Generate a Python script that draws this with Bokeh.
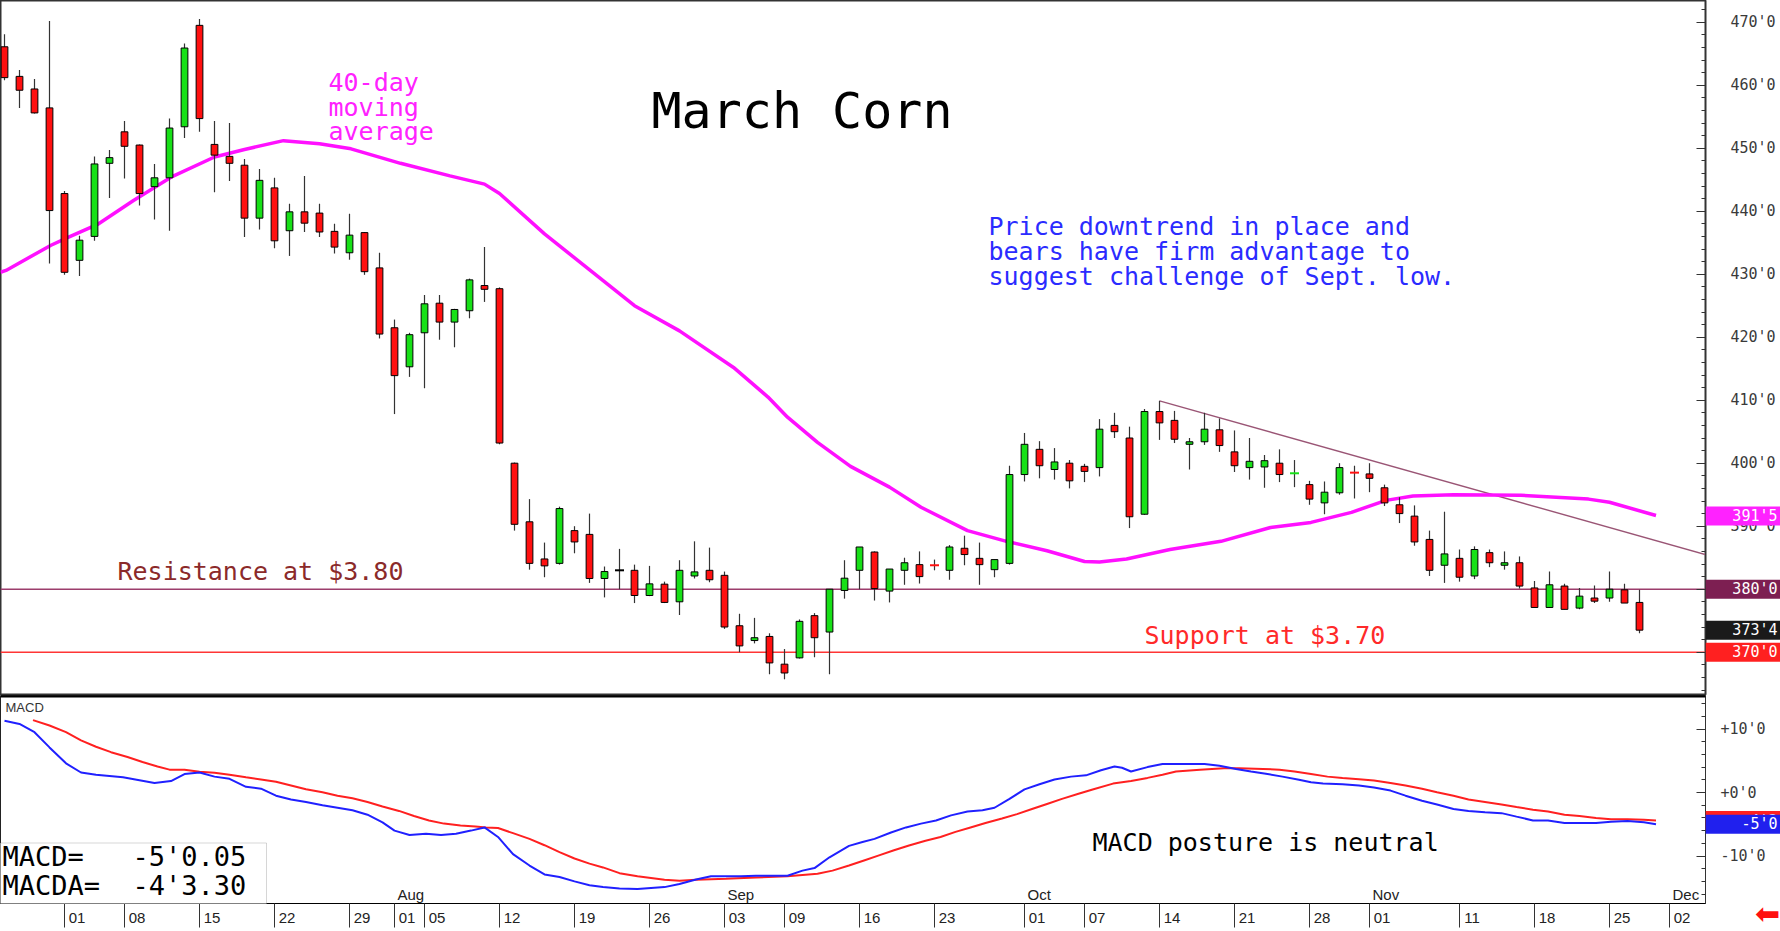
import numpy as np
from bokeh.plotting import figure
from bokeh.models import (Range1d, LinearAxis, SingleIntervalTicker, FixedTicker,
                          Span, Label, BoxAnnotation)
from bokeh.layouts import column, row
from bokeh.core.properties import value
from bokeh.embed import file_html
from bokeh.resources import INLINE

# ---------------- data ----------------
opens = [466.1, 461.4, 459.4, 456.4, 442.8, 432.2, 436.0, 447.6, 452.6, 450.5,
         443.9, 445.3, 453.4, 469.5, 450.6, 448.7, 447.3, 438.9, 443.7, 436.9,
         439.9, 439.7, 436.8, 433.4, 436.6, 431.0, 421.5, 415.3, 420.7, 425.4,
         422.4, 424.2, 428.2, 427.7, 400.0, 390.7, 384.8, 384.1, 389.3, 388.7,
         381.7, 383.0, 383.0, 379.0, 380.8, 378.0, 382.1, 383.0, 382.2, 374.2,
         371.85, 372.5, 368.1, 369.1, 375.8, 373.2, 379.8, 383.0, 385.9, 379.7,
         383.0, 383.9, 383.9, 383.0, 386.5, 384.9, 383.1, 384.1, 398.2, 402.2,
         399.0, 400.0, 399.5, 399.3, 406.0, 404.0, 391.9, 408.2, 406.8, 403.0,
         403.4, 405.3, 401.8, 399.3, 399.4, 400.0, 398.2, 396.6, 393.7, 395.3,
         398.7, 398.3, 396.1, 393.4, 391.6, 387.9, 383.8, 384.9, 382.1, 385.8,
         383.8, 384.2, 380.2, 377.1, 380.5, 377.0, 378.6, 378.6, 379.9, 377.9]
highs = [468.1, 462.4, 461.0, 470.2, 443.2, 436.1, 448.7, 449.7, 454.3, 450.6,
         447.5, 454.7, 466.6, 470.5, 454.3, 454.0, 448.3, 446.7, 445.3, 441.2,
         445.6, 441.2, 438.0, 439.6, 436.7, 433.4, 422.8, 420.7, 426.7, 426.7,
         424.5, 429.3, 434.3, 427.9, 400.1, 394.3, 387.4, 393.1, 390.0, 392.0,
         383.6, 386.4, 383.9, 383.7, 381.2, 384.6, 387.6, 386.6, 382.8, 376.1,
         375.45, 373.0, 370.5, 375.2, 376.2, 380.0, 384.6, 386.7, 386.0, 383.2,
         385.0, 386.0, 384.7, 387.0, 388.5, 387.4, 384.7, 399.6, 404.8, 403.5,
         402.4, 400.5, 399.9, 407.0, 408.0, 405.8, 408.6, 409.9, 408.3, 404.0,
         408.0, 407.1, 405.2, 404.0, 401.3, 402.2, 400.5, 397.2, 397.1, 400.0,
         399.6, 400.0, 396.6, 394.6, 393.3, 389.3, 392.3, 386.3, 386.8, 386.3,
         386.0, 385.2, 381.3, 382.8, 380.85, 380.2, 380.6, 382.8, 380.85, 379.9]
lows = [460.8, 456.4, 455.5, 431.7, 429.9, 429.7, 435.3, 442.1, 445.2, 440.9,
        438.7, 436.9, 451.6, 452.6, 443.0, 444.8, 435.9, 437.1, 434.1, 432.9,
        436.7, 435.9, 433.3, 432.3, 429.9, 419.8, 407.8, 413.7, 411.9, 419.6,
        418.4, 423.0, 425.6, 403.0, 389.3, 383.1, 381.9, 383.9, 385.7, 381.0,
        378.7, 380.0, 377.8, 378.9, 377.8, 375.9, 381.7, 381.1, 373.7, 370.0,
        371.4, 366.5, 365.7, 369.0, 369.2, 366.5, 378.5, 380.0, 378.2, 377.9,
        380.7, 380.9, 383.0, 381.5, 383.8, 380.7, 381.9, 383.9, 397.1, 397.6,
        397.4, 396.0, 397.0, 397.9, 404.0, 389.7, 391.8, 403.7, 403.2, 399.0,
        402.9, 401.8, 398.6, 397.4, 396.1, 397.0, 396.2, 393.4, 391.9, 395.0,
        394.4, 395.4, 393.2, 390.5, 386.9, 382.1, 381.0, 381.2, 381.6, 383.5,
        383.1, 380.1, 377.0, 377.0, 376.8, 376.8, 377.8, 378.0, 377.8, 373.0]
closes = [461.2, 459.2, 455.6, 440.1, 430.3, 435.4, 447.5, 448.5, 450.3, 442.8,
          445.3, 453.2, 465.9, 454.7, 448.9, 447.6, 438.9, 444.9, 435.3, 439.9,
          438.1, 436.7, 434.3, 436.2, 430.4, 420.5, 413.9, 420.4, 425.3, 422.4,
          424.4, 429.1, 427.6, 403.2, 390.3, 384.1, 383.7, 392.8, 387.5, 381.7,
          382.8, 383.0, 379.0, 380.85, 377.9, 383.0, 382.75, 381.5, 374.0, 371.0,
          372.3, 368.3, 366.7, 374.9, 372.3, 380.0, 381.75, 386.7, 380.1, 383.2,
          384.2, 382.0, 383.8, 386.7, 385.5, 383.9, 384.7, 398.2, 403.0, 399.6,
          400.2, 397.2, 398.7, 405.4, 405.0, 391.5, 408.2, 406.4, 403.8, 403.4,
          405.4, 402.8, 399.6, 400.3, 400.4, 398.2, 398.4, 394.3, 395.4, 399.3,
          398.5, 397.6, 393.7, 392.0, 387.5, 383.0, 385.6, 381.9, 386.3, 384.2,
          384.2, 380.5, 377.1, 380.7, 376.8, 378.9, 378.1, 380.0, 377.8, 373.5]

ma_idx = [-0.27, 0.1, 3.1, 4.2, 6.2, 8.6, 11.1, 14, 16, 18.6, 21, 23.1, 26.4, 29.7, 32, 33,
          36, 42, 45, 48.6, 50.9, 52.2, 54.2, 56.4, 59, 61.1, 64.2, 66.8, 69.5, 72, 73,
          74.8, 77.7, 81.1, 84.4, 87.1, 89.8, 92.1, 93.9, 96.6, 101.1, 105.6, 107, 110.1]
ma_val = [430.3, 430.6, 434.6, 435.8, 437.9, 441.7, 445.4, 448.6, 449.8, 451.2, 450.7, 449.9,
          447.6, 445.6, 444.3, 442.8, 436.4, 425.0, 421.0, 415.2, 410.5, 407.3, 403.3, 399.5,
          396.2, 393.0, 389.3, 387.6, 386.1, 384.4, 384.3, 384.8, 386.3, 387.6, 389.8, 390.6,
          392.2, 394.1, 394.8, 395.0, 394.9, 394.3, 393.8, 391.7]

macd_idx = [0, 1, 2, 3, 4.1, 5.1, 6.1, 7.9, 10, 11.1, 12, 13, 14, 15, 16.1, 17.1, 18.1, 19.1,
            20.1, 21.2, 22.2, 23.2, 24.2, 25.2, 26, 27, 28.1, 29.1, 30.1, 31.1, 32, 32.9,
            33.9, 35, 36, 37, 38, 39, 39.9, 41, 42.2, 44, 45, 46.1, 47.1, 49.1, 50.1, 52.2,
            53.2, 54, 55, 56.3, 57.2, 58, 59.1, 60.1, 61.1, 62.1, 63.1, 64.2, 65.2, 66, 67,
            68, 69, 70, 71.1, 72.1, 73.1, 74, 74.5, 75.1, 76.2, 77.2, 80, 81, 82.1, 83.1,
            84.2, 85.2, 86.3, 87.1, 87.9, 89.2, 90.3, 91.3, 92.4, 93.4, 94.5, 95.5, 96.6,
            97.6, 98.7, 99.8, 100.8, 101.9, 102.9, 104, 105, 106.1, 107.1, 108.2, 109.3, 110.1]
macd_val = [11.3, 10.8, 9.5, 7.1, 4.6, 3.15, 2.8, 2.4, 1.5, 1.8, 2.9, 3.15, 2.5, 2.15, 0.9,
            0.6, -0.5, -1.1, -1.5, -2.0, -2.4, -2.8, -3.5, -4.7, -6.0, -6.7, -6.5, -6.7,
            -6.5, -6.0, -5.5, -7.0, -9.7, -11.5, -12.9, -13.3, -14.0, -14.6, -14.9, -15.1,
            -15.2, -14.9, -14.4, -13.7, -13.2, -13.2, -13.1, -13.1, -12.3, -11.9, -10.2,
            -8.4, -7.8, -7.3, -6.3, -5.5, -4.9, -4.4, -3.6, -3.0, -2.8, -2.4, -1.0, 0.5,
            1.3, 2.05, 2.5, 2.7, 3.5, 4.1, 3.9, 3.3, 4.0, 4.5, 4.5, 4.2, 3.7, 3.3, 2.9, 2.5,
            2.0, 1.6, 1.4, 1.3, 1.1, 0.8, 0.3, -0.5, -1.3, -1.9, -2.6, -2.9, -3.1, -3.25,
            -3.8, -4.4, -4.4, -4.8, -4.8, -4.8, -4.6, -4.5, -4.7, -5.0]

sig_idx = [1.9, 3, 4.1, 5.1, 6.1, 7.1, 8.2, 9.2, 10.2, 11, 12, 13, 14, 15, 16.1, 17.1, 18.1,
           19.1, 20.1, 21.2, 22.2, 23.2, 24.2, 25.2, 26.3, 27.3, 28.3, 29.3, 30.4, 31.4, 32.1,
           32.9, 33.9, 35, 36, 37, 38, 39, 39.9, 41, 42.2, 44, 45, 46.1, 48.1, 50.1, 52.2,
           54.2, 55.2, 56.3, 57.3, 58.3, 59.3, 60.3, 61.4, 62.4, 63.4, 64.4, 65.4, 66.5,
           67.5, 68.5, 69.5, 70.5, 71.6, 72.6, 73.9, 75.1, 76.2, 77.2, 78.1, 79.7, 81.3,
           82.3, 83.9, 85, 86, 87.1, 88.2, 89.2, 90.3, 91.3, 92.4, 93.4, 94.5, 95.5, 96.6,
           97.6, 98.7, 99.8, 100.8, 101.9, 102.9, 104, 105, 106.1, 107.1, 108.2, 109.3, 110.1]
sig_val = [11.4, 10.55, 9.5, 8.2, 7.2, 6.35, 5.6, 4.8, 4.1, 3.6, 3.6, 3.25, 3.1, 2.8, 2.4,
           2.05, 1.7, 1.1, 0.5, 0.05, -0.5, -0.9, -1.5, -2.2, -2.9, -3.7, -4.4, -4.9, -5.2,
           -5.35, -5.5, -5.6, -6.4, -7.3, -8.3, -9.4, -10.4, -11.2, -11.8, -12.7, -13.2,
           -13.75, -13.9, -13.75, -13.6, -13.4, -13.2, -12.8, -12.3, -11.5, -10.7, -9.9,
           -9.1, -8.35, -7.6, -7.0, -6.2, -5.5, -4.8, -4.1, -3.4, -2.6, -1.8, -1.0, -0.2,
           0.5, 1.4, 1.8, 2.3, 2.8, 3.3, 3.6, 3.8, 3.8, 3.7, 3.6, 3.3, 2.9, 2.5, 2.3, 2.1,
           1.9, 1.5, 1.1, 0.6, 0.05, -0.5, -1.1, -1.5, -1.9, -2.3, -2.7, -3.0, -3.5, -3.7,
           -4.0, -4.2, -4.2, -4.3, -4.4]

trend_x = [77, 114]
trend_y = [409.9, 385.1]
resistance_level = 380.0
support_level = 370.0

price_tag_values = [391.625, 380.0, 373.5, 370.0]
price_tag_texts = ["391'5", "380'0", "373'4", "370'0"]
price_tag_colors = ["#ff22ff", "#7d1f52", "#1a1a1a", "#ff2020"]
macd_tag_values = [-4.41, -5.0]
macd_tag_texts = ["-4'3", "-5'0"]
macd_tag_colors = ["#ff2020", "#2020ee"]

price_axis_ticks = [370, 380, 390, 400, 410, 420, 430, 440, 450, 460, 470]
macd_axis_labels = {-10: "-10'0", 0: "+0'0", 10: "+10'0"}
date_tick_idx = [4, 8, 13, 18, 23, 26, 28, 33, 38, 43, 48, 52, 57, 62, 68, 72, 77, 82, 87,
                 91, 97, 102, 107, 111]
date_tick_labels = ["01", "08", "15", "22", "29", "01", "05", "12", "19", "26", "03", "09",
                    "16", "23", "01", "07", "14", "21", "28", "01", "11", "18", "25", "02"]
month_names = ["Aug", "Sep", "Oct", "Nov", "Dec"]
month_idx = [26, 48, 68, 91, 111]

# ---------------- geometry helpers (pixel -> data for annotations) ----------------
def X(px):
    return (px - 4) / 15.0

def P(py):
    return 380 + (588.7 - py) / 6.3

def M(py):
    return (792 - py) / 6.35

MONO = "DejaVu Sans Mono"
SANS = "Liberation Sans"
RED = "#ff1010"
GREEN = "#18e018"
MAG = "#ff22ff"
BLUE_T = "#2b2bff"

xr = Range1d(X(0), X(1705))

p = figure(width=1780, height=695, x_range=xr, y_range=Range1d(P(695), P(0)),
           output_backend="svg", toolbar_location=None,
           min_border_left=0, min_border_right=75, min_border_top=0, min_border_bottom=0,
           x_axis_location=None, y_axis_location=None,
           background_fill_color="white", border_fill_color="white",
           outline_line_color="#333", outline_line_width=2)
p.grid.visible = False


def style_right_axis(ax):
    ax.axis_line_color = "#333"
    ax.major_tick_in = 9
    ax.major_tick_out = 0
    ax.minor_tick_in = 4
    ax.minor_tick_out = 0
    ax.major_tick_line_color = "#333"
    ax.minor_tick_line_color = "#333"
    ax.major_label_standoff = 25
    ax.major_label_text_font = MONO
    ax.major_label_text_font_size = "15px"
    ax.major_label_text_color = "#3a3a3a"


pa = LinearAxis(ticker=SingleIntervalTicker(interval=10, num_minor_ticks=5),
                major_label_overrides={v: f"{v}'0" for v in price_axis_ticks})
style_right_axis(pa)
p.add_layout(pa, "right")

# horizontal levels and trend line
p.add_layout(Span(location=resistance_level, dimension="width", line_color="#9c3d6c",
                  line_width=1.5, level="underlay"))
p.add_layout(Span(location=support_level, dimension="width", line_color="#ff3535",
                  line_width=1.5, level="underlay"))
p.line(trend_x, trend_y, line_color="#9a5575", line_width=1.4)

# moving average
p.line(ma_idx, ma_val, line_color="#ff10ff", line_width=3.5)

# candles
n = len(opens)
idx = list(range(n))
p.segment(x0=idx, y0=lows, x1=idx, y1=highs, line_color="#333", line_width=1.2)
colors = [GREEN if c > o else (RED if c < o else "black") for o, c in zip(opens, closes)]
doji = [abs(o - c) < 0.3 for o, c in zip(opens, closes)]
bx = [i for i in idx if not doji[i]]
p.vbar(x=bx, width=0.45,
       top=[max(opens[i], closes[i]) for i in bx],
       bottom=[min(opens[i], closes[i]) for i in bx],
       fill_color=[colors[i] for i in bx], line_color="black", line_width=1)
dx = [i for i in idx if doji[i]]
p.segment(x0=[i - 0.3 for i in dx], x1=[i + 0.3 for i in dx],
          y0=[closes[i] for i in dx], y1=[closes[i] for i in dx],
          line_color=[colors[i] for i in dx], line_width=2)


def txt(fig, x, y, t, color, size, font=MONO):
    fig.add_layout(Label(x=x, y=y, text=t, text_font=font, text_font_size=size,
                         text_color=color, text_baseline="middle", text_align="left"))


# texts on the price panel
txt(p, X(651), P(110), "March Corn", "black", "50px")
for k, t in enumerate(["40-day", "moving", "average"]):
    txt(p, X(328), P(82.2 + 24.5 * k), t, MAG, "25px")
for k, t in enumerate(["Price downtrend in place and", "bears have firm advantage to",
                       "suggest challenge of Sept. low."]):
    txt(p, X(988), P(226 + 25 * k), t, BLUE_T, "25px")
txt(p, X(117), P(570.5), "Resistance at $3.80", "#8b2a2a", "25px")
txt(p, X(1144), P(634.5), "Support at $3.70", "#ff2a2a", "25px")

# ---------------- MACD panel ----------------
q = figure(width=1780, height=236, x_range=xr, y_range=Range1d(M(903), M(695)),
           output_backend="svg", toolbar_location=None,
           min_border_left=0, min_border_right=75, min_border_top=0, min_border_bottom=28,
           x_axis_location=None, y_axis_location=None,
           background_fill_color="white", border_fill_color="white",
           outline_line_color="#222")
q.grid.visible = False

qa = LinearAxis(ticker=SingleIntervalTicker(interval=10, num_minor_ticks=5),
                major_label_overrides=macd_axis_labels)
style_right_axis(qa)
qa.major_label_standoff = 15
q.add_layout(qa, "right")

xa = LinearAxis(ticker=FixedTicker(ticks=date_tick_idx),
                major_label_overrides={i: "\u00a0" * 6 + lab
                                       for i, lab in zip(date_tick_idx, date_tick_labels)})
xa.axis_line_color = "black"
xa.major_tick_out = 24
xa.major_tick_in = 0
xa.major_tick_line_color = "#333"
xa.major_label_standoff = -19
xa.major_label_text_font = SANS
xa.major_label_text_font_size = "15px"
xa.major_label_text_color = "#222"
q.add_layout(xa, "below")

q.add_layout(Span(location=M(695.5), dimension="width", line_color="black", line_width=3))

q.line(sig_idx, sig_val, line_color="#ff2020", line_width=2)
q.line(macd_idx, macd_val, line_color="#2020ff", line_width=2)

q.text(x=month_idx, y=[M(903)] * len(month_idx), text=month_names, x_offset=3, y_offset=-9,
       text_baseline="middle", text_align="left", text_font=value(SANS),
       text_font_size="15px", text_color="#222")

txt(q, X(5), M(707), "MACD", "#333", "13px", SANS)
txt(q, X(1092), M(841.5), "MACD posture is neutral", "black", "25px")

q.add_layout(BoxAnnotation(left=X(-2), right=X(266), bottom=M(904), top=M(842.5),
                           fill_color="white", fill_alpha=1.0, line_color="#777", line_width=1))
txt(q, X(2), M(855.5), "MACD=\u00a0\u00a0\u00a0-5'0.05", "black", "27px")
txt(q, X(2), M(884.5), "MACDA=\u00a0\u00a0-4'3.30", "black", "27px")

# ---------------- transparent strips over the right axis (value tags) ----------------
def strip(height, yr):
    s = figure(width=75, height=height, x_range=Range1d(0, 75), y_range=yr,
               output_backend="svg", toolbar_location=None,
               min_border_left=0, min_border_right=0, min_border_top=0, min_border_bottom=0,
               x_axis_location=None, y_axis_location=None,
               background_fill_color=None, border_fill_color=None, outline_line_color=None)
    s.background_fill_alpha = 0
    s.border_fill_alpha = 0
    s.grid.visible = False
    return s


def tags(s, vals, texts, cols):
    # one tag after another so that a later tag covers an earlier one completely
    for v, t, c in zip(vals, texts, cols):
        s.rect(x=[37.5], y=[v], width=75, height=19, height_units="screen",
               fill_color=c, line_color=None)
        s.text(x=[72], y=[v], text=[t], text_align="right", text_baseline="middle",
               text_color="white", text_font=value(MONO), text_font_size="15px")


sp = strip(695, p.y_range)
tags(sp, price_tag_values, price_tag_texts, price_tag_colors)

sq = strip(236, Range1d(M(931), M(695)))
tags(sq, macd_tag_values, macd_tag_texts, macd_tag_colors)
sq.text(x=[62], y=[M(913)], text=["\u2b05"], text_align="center", text_baseline="middle",
        text_color="#ff1010", text_font=value("DejaVu Sans"), text_font_size="30px")

left = column(p, q, spacing=0)
right = column(sp, sq, spacing=0, margin=(0, 0, 0, -75))
layout = row(left, right, spacing=0)
open("out.html", "w").write(file_html(layout, INLINE))
